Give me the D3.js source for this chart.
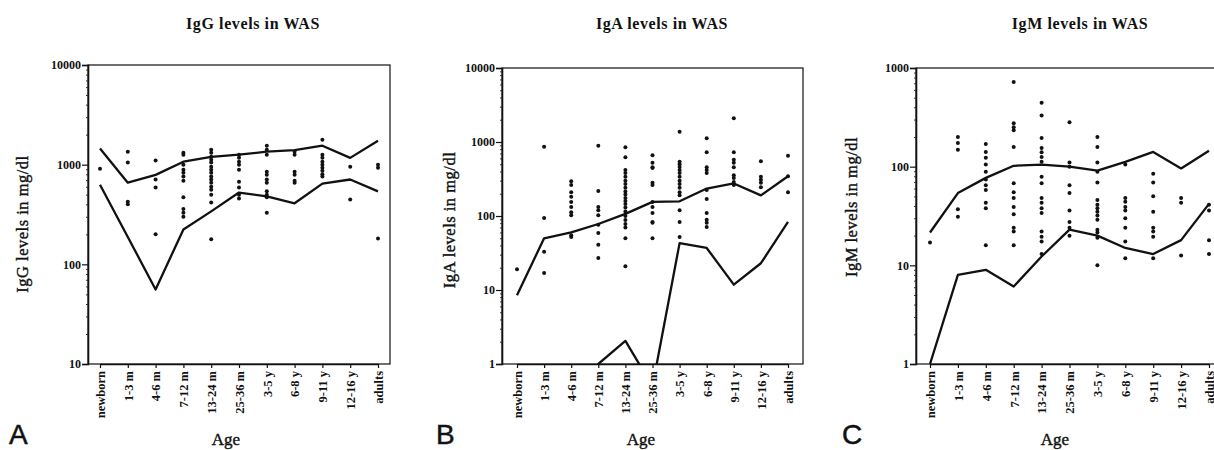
<!DOCTYPE html>
<html>
<head>
<meta charset="utf-8">
<script src="https://cdn.jsdelivr.net/npm/d3@7"></script>
<style>
body { margin: 0; background: #fff; }
svg { display: block; background: #fff; }
text { font-family: "Liberation Serif", "Times New Roman", serif; fill: #111; }
</style>
</head>
<body>
<svg id="canvas"></svg>
<script>
const ages = ['newborn', '1-3 m', '4-6 m', '7-12 m', '13-24 m', '25-36 m', '3-5 y', '6-8 y', '9-11 y', '12-16 y', 'adults'];

// IgG (panel A)
const igGTicks = [10, 100, 1000, 10000];
const igGUpper = [1450, 660, 790, 1070, 1200, 1260, 1350, 1400, 1550, 1170, 1740];
const igGLower = [630, 188, 56, 224, 340, 525, 480, 410, 645, 710, 540];
const igGPoints = [
    [910],
    [1350, 1050, 425, 400],
    [1100, 710, 590, 200],
    [1320, 1260, 1000, 890, 830, 760, 690, 470, 360, 330, 300],
    [1410, 1320, 1200, 1120, 1050, 955, 890, 830, 760, 710, 660, 600, 560, 500, 417, 178],
    [1260, 1170, 1070, 1000, 890, 675, 590, 500, 457],
    [1550, 1410, 1260, 850, 790, 710, 660, 540, 500, 470, 330],
    [1350, 1260, 850, 790, 690, 660],
    [1780, 1260, 1170, 1070, 1000, 930, 870, 800, 760],
    [955, 447],
    [1000, 930, 182]
];

// IgA (panel B)
const igATicks = [1, 10, 100, 1000, 10000];
const igAUpper = [8.5, 50, 60, 78, 107, 155, 158, 235, 275, 190, 345];
const igALower = [0.3, 0.3, 0.3, 1.0, 2.05, 0.5, 43, 37, 11.8, 23, 83];
const igAPoints = [
    [19],
    [860, 94, 33, 17],
    [295, 263, 210, 182, 155, 132, 112, 102, 55, 52],
    [890, 218, 132, 120, 102, 76, 59, 41, 27],
    [850, 620, 417, 380, 340, 300, 270, 240, 215, 195, 175, 160, 145, 130, 115, 100, 88, 78, 70, 50, 21],
    [660, 525, 457, 447, 282, 263, 155, 132, 110, 83, 81, 50],
    [1380, 540, 500, 460, 420, 380, 340, 300, 270, 240, 210, 190, 120, 83, 52],
    [1120, 725, 457, 417, 380, 224, 170, 110, 89, 81, 71],
    [2090, 725, 575, 525, 457, 355, 325, 288, 263],
    [550, 340, 310, 282, 245],
    [650, 345, 210]
];

// IgM (panel C)
const igMTicks = [1, 10, 100, 1000];
const igMUpper = [21.5, 54, 77, 102, 105, 100, 91, 112, 141, 96, 145];
const igMLower = [1.0, 8, 9, 6.1, 12.3, 23, 20, 15, 13, 18, 42];
const igMPoints = [
    [17],
    [200, 174, 148, 37, 31],
    [170, 141, 123, 105, 89, 74, 65, 58, 43, 38, 16],
    [720, 275, 251, 234, 158, 68, 55, 48, 39, 33, 24, 22, 16],
    [445, 330, 195, 155, 140, 125, 112, 79, 68, 48, 43, 38, 34, 22, 19.5, 17.4, 13],
    [282, 110, 100, 65, 54, 36, 27.5, 24, 20],
    [200, 158, 110, 89, 69, 46, 41, 38, 35, 32, 29, 23, 21.5, 19, 10],
    [105, 48, 44, 39, 36, 30, 24, 17.4, 11.8],
    [85, 69, 50, 35, 24, 22, 19.5, 11.8],
    [48, 43, 12.6],
    [41, 36, 18, 13]
];

const width = 1214;
const height = 450;

const svg = d3.select('#canvas')
    .attr('width', width)
    .attr('height', height);

const panels = [
    { id: 'a', letter: 'A', title: 'IgG levels in WAS', yLabel: 'IgG levels in mg/dl',
      ticks: igGTicks, upper: igGUpper, lower: igGLower, points: igGPoints,
      left: 88, top: 65, right: 390, bottom: 364, first: 100, last: 378,
      titleX: 253, yLabelX: 28, yLabelY: 224, ageX: 226, letterX: 9 },
    { id: 'b', letter: 'B', title: 'IgA levels in WAS', yLabel: 'IgA levels in mg/dl',
      ticks: igATicks, upper: igAUpper, lower: igALower, points: igAPoints,
      left: 502, top: 68, right: 803, bottom: 364, first: 517, last: 788,
      titleX: 662, yLabelX: 455, yLabelY: 220, ageX: 641, letterX: 436 },
    { id: 'c', letter: 'C', title: 'IgM levels in WAS', yLabel: 'IgM levels in mg/dl',
      ticks: igMTicks, upper: igMUpper, lower: igMLower, points: igMPoints,
      left: 916, top: 68, right: 1222, bottom: 364, first: 930, last: 1209,
      titleX: 1080, yLabelX: 857, yLabelY: 207, ageX: 1055, letterX: 842 }
];

const drawPanel = (p) => {
    const g = svg.append('g').attr('id', 'panel-' + p.id);

    const xScale = d3.scalePoint()
        .domain(ages)
        .range([p.first, p.last]);

    const yScale = d3.scaleLog()
        .domain([p.ticks[0], p.ticks[p.ticks.length - 1]])
        .range([p.bottom, p.top]);

    g.append('clipPath')
        .attr('id', 'clip-' + p.id)
        .append('rect')
        .attr('x', p.left)
        .attr('y', p.top)
        .attr('width', p.right - p.left)
        .attr('height', p.bottom - p.top);

    // frame: thin top/right, heavier axes
    g.append('rect')
        .attr('x', p.left)
        .attr('y', p.top)
        .attr('width', p.right - p.left)
        .attr('height', p.bottom - p.top)
        .attr('fill', 'none')
        .attr('stroke', '#111')
        .attr('stroke-width', 1.2);

    // minor log ticks
    const minor = yScale.ticks().filter(v => !p.ticks.includes(v));
    g.append('g')
        .attr('transform', 'translate(' + p.left + ',0)')
        .call(d3.axisLeft(yScale).tickValues(minor).tickSize(2).tickFormat(''))
        .call(a => a.select('.domain').remove())
        .selectAll('line').attr('stroke', '#333');

    const yAxis = g.append('g')
        .attr('transform', 'translate(' + p.left + ',0)')
        .call(d3.axisLeft(yScale).tickValues(p.ticks).tickSize(6).tickPadding(1).tickFormat(d3.format('d')));
    yAxis.select('.domain').attr('stroke', '#111').attr('stroke-width', 1.6);
    yAxis.selectAll('line').attr('stroke', '#111').attr('stroke-width', 1.2);
    yAxis.selectAll('text')
        .attr('font-size', 12)
        .attr('font-weight', 'bold')
        .attr('font-family', '"Liberation Serif", serif')
        .attr('fill', '#111');

    const xAxis = g.append('g')
        .attr('transform', 'translate(0,' + p.bottom + ')')
        .call(d3.axisBottom(xScale).tickSize(4).tickSizeOuter(0));
    xAxis.select('.domain').attr('stroke', '#111').attr('stroke-width', 1.6);
    xAxis.selectAll('line').attr('stroke', '#111').attr('stroke-width', 1.2);
    xAxis.selectAll('text')
        .attr('font-size', 12.5)
        .attr('font-weight', 'bold')
        .attr('font-family', '"Liberation Serif", serif')
        .attr('fill', '#111')
        .attr('text-anchor', 'end')
        .attr('transform', 'rotate(-90)')
        .attr('x', -7)
        .attr('y', 0)
        .attr('dy', '0.35em');

    const clipped = g.append('g').attr('clip-path', 'url(#clip-' + p.id + ')');

    const line = d3.line()
        .x((v, i) => xScale(ages[i]))
        .y(v => yScale(v));

    [p.upper, p.lower].forEach(series => {
        clipped.append('path')
            .datum(series)
            .attr('d', line)
            .attr('fill', 'none')
            .attr('stroke', '#111')
            .attr('stroke-width', 2.3)
            .attr('stroke-linejoin', 'round');
    });

    const dots = [];
    p.points.forEach((vals, i) => vals.forEach(v => dots.push({ age: ages[i], value: v })));

    clipped.selectAll('circle')
        .data(dots)
        .enter()
        .append('circle')
        .attr('cx', d => xScale(d.age))
        .attr('cy', d => yScale(d.value))
        .attr('r', 2)
        .attr('fill', '#111');

    g.append('text')
        .attr('x', p.titleX)
        .attr('y', 29)
        .attr('text-anchor', 'middle')
        .attr('font-size', 16)
        .attr('font-weight', 'bold')
        .style('letter-spacing', '0.6px')
        .text(p.title);

    g.append('text')
        .attr('transform', 'translate(' + p.yLabelX + ',' + p.yLabelY + ') rotate(-90)')
        .attr('text-anchor', 'middle')
        .attr('font-size', 16.5)
        .attr('stroke', '#111')
        .attr('stroke-width', 0.4)
        .style('letter-spacing', '0.5px')
        .text(p.yLabel);

    g.append('text')
        .attr('x', p.ageX)
        .attr('y', 445)
        .attr('text-anchor', 'middle')
        .attr('font-size', 17)
        .attr('stroke', '#111')
        .attr('stroke-width', 0.4)
        .text('Age');

    g.append('text')
        .attr('x', p.letterX)
        .attr('y', 444)
        .attr('font-size', 28)
        .attr('stroke', '#111')
        .attr('stroke-width', 0.5)
        .style('font-family', '"Liberation Sans", Arial, sans-serif')
        .text(p.letter);
};

panels.forEach(drawPanel);
</script>
</body>
</html>
